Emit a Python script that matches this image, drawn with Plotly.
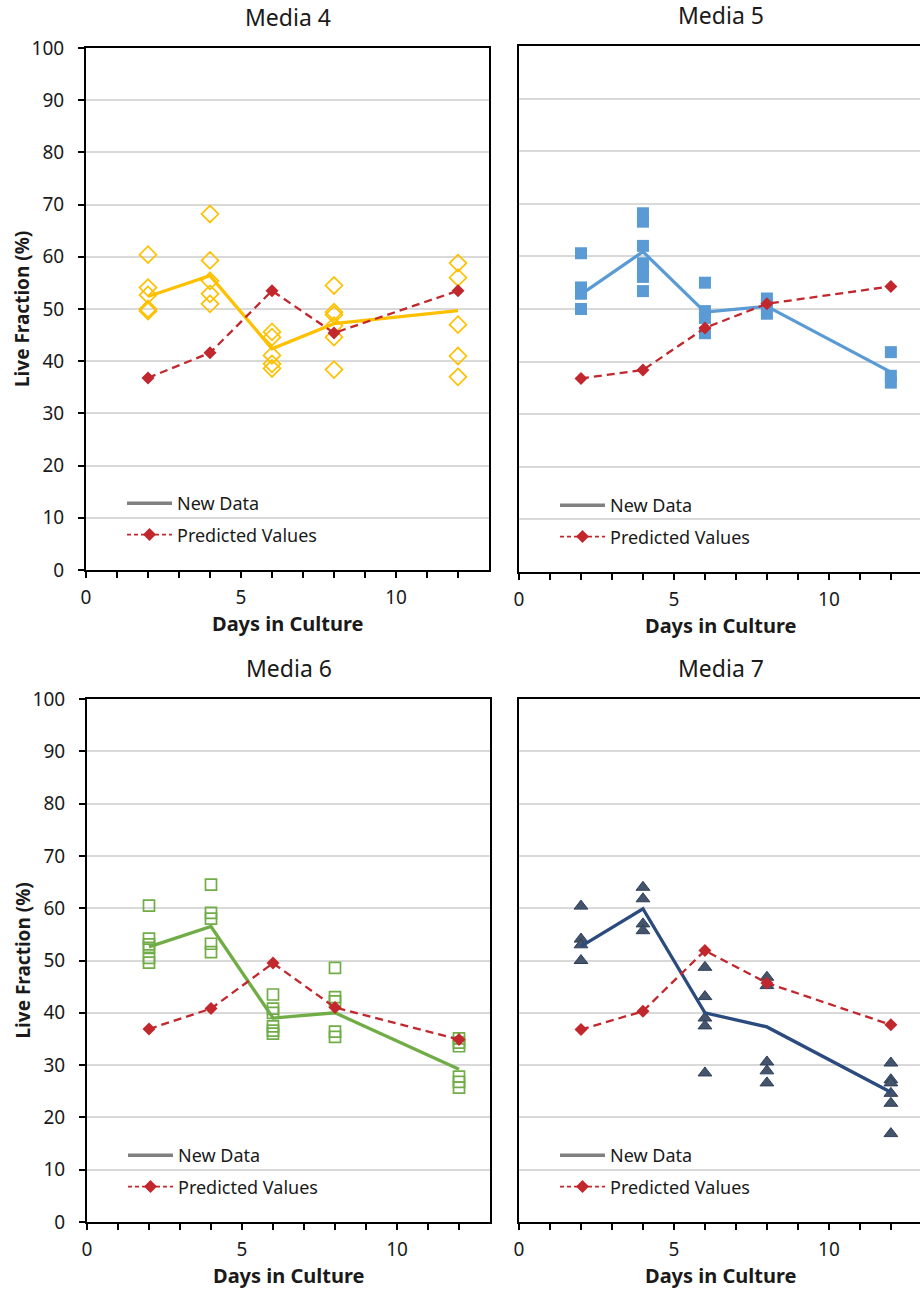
import plotly.graph_objects as go

days = [2, 4, 6, 8, 12]

# Media 4 (open gold diamonds)
m4_x = [2]*5 + [4]*5 + [6]*5 + [8]*6 + [12]*5
m4_y = [60.4, 54.1, 52.7, 50.0, 49.6,
        68.2, 59.3, 55.4, 52.9, 51.0,
        45.6, 44.6, 41.1, 39.5, 38.6,
        54.5, 49.4, 48.9, 46.8, 44.6, 38.4,
        58.8, 56.0, 47.0, 41.0, 37.0]
m4_mean = [52.4, 56.4, 42.4, 47.2, 49.7]
m4_pred = [36.8, 41.6, 53.5, 45.4, 53.5]

# Media 5 (filled blue squares)
m5_x = [2]*4 + [4]*7 + [6]*4 + [8]*3 + [12]*3
m5_y = [60.6, 54.1, 52.9, 50.0,
        68.2, 66.6, 62.0, 58.7, 57.4, 56.1, 53.4,
        55.0, 49.6, 48.3, 45.4,
        52.0, 50.7, 49.1,
        41.8, 37.3, 36.0]
m5_mean = [52.8, 60.9, 49.4, 50.5, 38.0]
m5_pred = [36.8, 38.4, 46.4, 51.0, 54.3]

# Media 6 (open green squares)
m6_x = [2]*6 + [4]*5 + [6]*6 + [8]*5 + [12]*6
m6_y = [60.5, 54.2, 53.1, 52.4, 50.5, 49.6,
        64.5, 59.1, 58.0, 53.2, 51.6,
        43.5, 40.8, 40.0, 37.4, 36.6, 36.0,
        48.6, 43.0, 42.2, 36.4, 35.4,
        35.1, 34.3, 33.6, 27.8, 26.8, 25.7]
m6_mean = [52.6, 56.5, 39.0, 40.0, 29.2]
m6_pred = [36.9, 40.8, 49.5, 41.0, 34.9]

# Media 7 (filled navy triangles)
m7_x = [2]*4 + [4]*4 + [6]*5 + [8]*5 + [12]*6
m7_y = [60.4, 54.1, 53.0, 50.0,
        64.0, 61.8, 57.0, 55.7,
        48.7, 43.1, 39.0, 37.5, 28.5,
        46.8, 45.2, 30.6, 28.9, 26.6,
        30.4, 27.2, 26.6, 24.6, 22.7, 16.9]
m7_mean = [52.7, 59.9, 40.0, 37.3, 24.8]
m7_pred = [36.8, 40.3, 51.9, 45.7, 37.7]

titles = ["Media 4", "Media 5", "Media 6", "Media 7"]
legend_labels = ["New Data", "Predicted Values"]

FONT = "Noto Sans"
RED = "#C1272D"
W, H = 920, 1289

fig = go.Figure()

panels = [
    dict(px=m4_x, py=m4_y, mean=m4_mean, pred=m4_pred, line="#FFC000",
         marker=dict(symbol="diamond-open", size=13, color="#FFC000", line=dict(width=1.7, color="#FFC000"))),
    dict(px=m5_x, py=m5_y, mean=m5_mean, pred=m5_pred, line="#5B9BD5",
         marker=dict(symbol="square", size=12, color="#5B9BD5", line=dict(width=0))),
    dict(px=m6_x, py=m6_y, mean=m6_mean, pred=m6_pred, line="#70AD47",
         marker=dict(symbol="square-open", size=11, color="#70AD47", line=dict(width=1.7, color="#70AD47"))),
    dict(px=m7_x, py=m7_y, mean=m7_mean, pred=m7_pred, line="#2B4A7E",
         marker=dict(symbol="triangle-up", size=12, color="#44546A", line=dict(width=1, color="#2F3F5A"))),
]

# pixel geometry -> domains
geo = [
    dict(x0=86, x1=489, y0=48, y1=570, xmax=13.0, left=True),
    dict(x0=519, x1=920, y0=46, y1=572, xmax=12.94, left=False),
    dict(x0=87, x1=490, y0=699, y1=1222, xmax=13.0, left=True),
    dict(x0=519, x1=920, y0=699, y1=1222, xmax=12.94, left=False),
]

for i, (p, g) in enumerate(zip(panels, geo)):
    n = i + 1
    xa = "x" if n == 1 else f"x{n}"
    ya = "y" if n == 1 else f"y{n}"
    lg = "legend" if n == 1 else f"legend{n}"
    fig.add_trace(go.Scatter(x=p["px"], y=p["py"], mode="markers", marker=p["marker"],
                             xaxis=xa, yaxis=ya, showlegend=False, cliponaxis=False))
    fig.add_trace(go.Scatter(x=days, y=p["mean"], mode="lines", line=dict(color=p["line"], width=3.3),
                             xaxis=xa, yaxis=ya, showlegend=False))
    fig.add_trace(go.Scatter(x=days, y=p["pred"], mode="lines+markers",
                             line=dict(color=RED, width=2.3, dash="8px,5px"),
                             marker=dict(symbol="diamond", size=10, color=RED),
                             xaxis=xa, yaxis=ya, showlegend=False))
    # legend entries
    fig.add_trace(go.Scatter(x=[None], y=[None], mode="lines", name=legend_labels[0],
                             line=dict(color="#808080", width=3.5),
                             xaxis=xa, yaxis=ya, legend=lg, legendgroup=f"a{n}"))
    fig.add_trace(go.Scatter(x=[None], y=[None], mode="lines+markers", name=legend_labels[1],
                             line=dict(color=RED, width=1.8, dash="4px,3px"),
                             marker=dict(symbol="diamond", size=10, color=RED),
                             xaxis=xa, yaxis=ya, legend=lg, legendgroup=f"b{n}"))

    xd = [g["x0"] / W, min(g["x1"] / W, 1.0)]
    yd = [1 - g["y1"] / H, 1 - g["y0"] / H]
    xkey = "xaxis" if n == 1 else f"xaxis{n}"
    ykey = "yaxis" if n == 1 else f"yaxis{n}"
    fig.update_layout(**{
        xkey: dict(domain=xd, anchor=ya, range=[0, g["xmax"]], tickmode="array", automargin=False,
                   tickvals=[0, 5, 10], ticks="outside", ticklen=6, tickwidth=1.5, tickcolor="black",
                   minor=dict(tickvals=list(range(0, 13)), ticks="outside", ticklen=6, tickwidth=1.5, tickcolor="black"),
                   showgrid=False, zeroline=False, showline=True, linecolor="black", linewidth=2,
                   mirror=True, ticklabelstandoff=3,
                   tickfont=dict(family=FONT, size=19, color="#1a1a1a")),
        ykey: dict(domain=yd, anchor=xa, range=[0, 100], dtick=10, automargin=False,
                   ticks="outside" if g["left"] else "", ticklen=6, tickwidth=1.5, tickcolor="black",
                   showticklabels=g["left"], showgrid=True, gridcolor="#D9D9D9", gridwidth=1.5,
                   zeroline=False, showline=True, linecolor="black", linewidth=2,
                   mirror=True if g["left"] else False, ticklabelstandoff=10,
                   tickfont=dict(family=FONT, size=19, color="#1a1a1a")),
        lg: dict(x=(g["x0"] + 36) / W, y=1 - (g["y1"] - 85) / H, xanchor="left", yanchor="top",
                 bgcolor="rgba(0,0,0,0)", tracegroupgap=5, itemwidth=45,
                 font=dict(family=FONT, size=18, color="#1a1a1a")),
    })
    cx = (g["x0"] + g["x0"] + 403) / 2 / W
    fig.add_annotation(text=titles[i], x=cx, y=1 - (g["y0"] - 31) / H, xref="paper", yref="paper",
                       showarrow=False, xanchor="center", yanchor="middle",
                       font=dict(family=FONT, size=23, color="#1a1a1a"))
    fig.add_annotation(text="<b>Days in Culture</b>", x=cx, y=1 - min(g["y1"] + 53, 1275) / H,
                       xref="paper", yref="paper", showarrow=False, xanchor="center", yanchor="middle",
                       font=dict(family=FONT, size=20, color="#1a1a1a"))
    if g["left"]:
        fig.add_annotation(text="<b>Live Fraction (%)</b>", x=22 / W, y=1 - (g["y0"] + g["y1"]) / 2 / H,
                           xref="paper", yref="paper", showarrow=False, textangle=-90,
                           xanchor="center", yanchor="middle",
                           font=dict(family=FONT, size=19, color="#1a1a1a"))

fig.update_layout(width=W, height=H, margin=dict(l=0, r=0, t=0, b=0),
                  paper_bgcolor="white", plot_bgcolor="white", showlegend=True)

fig.write_html("out.html")
